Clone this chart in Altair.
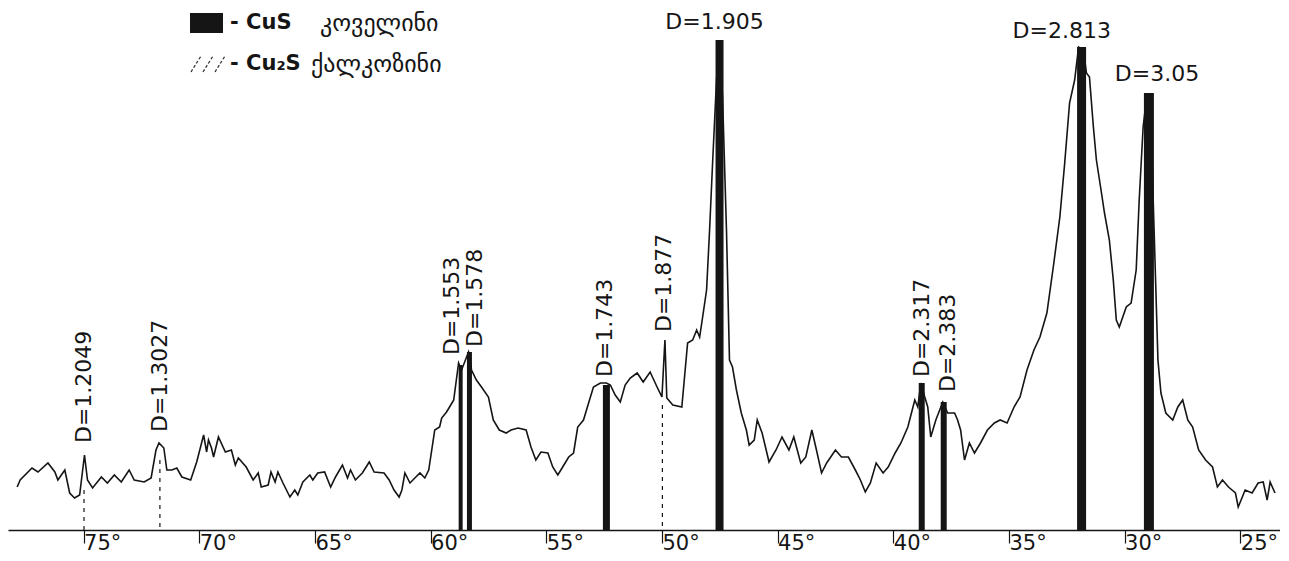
import altair as alt
import pandas as pd

# ---------------- data ----------------
two_theta = [77.87, 77.74, 77.23, 76.97, 76.54, 76.24, 76.11, 75.81, 75.60, 75.39, 75.17,
             74.96, 74.83, 74.61, 74.23, 73.97, 73.67, 73.37, 73.03, 72.81, 72.38, 72.08,
             71.87, 71.74, 71.53, 71.40, 71.18, 70.97, 70.75, 70.37, 70.11, 69.81, 69.68,
             69.60, 69.47, 69.38, 69.17, 68.87, 68.61, 68.44, 68.31, 67.97, 67.67, 67.45,
             67.32, 67.02, 66.90, 66.72, 66.60, 66.38, 66.08, 65.87, 65.74, 65.52, 65.22,
             65.09, 64.88, 64.58, 64.32, 64.11, 63.81, 63.59, 63.46, 63.25, 62.95, 62.65,
             62.44, 62.01, 61.79, 61.58, 61.36, 61.24, 61.11, 60.89, 60.68, 60.46, 60.25,
             60.08, 59.82, 59.61, 59.52, 59.31, 59.18, 59.00, 58.79, 58.66, 58.36, 58.23,
             58.02, 57.80, 57.50, 57.29, 57.03, 56.73, 56.52, 56.22, 55.87, 55.66, 55.45,
             55.23, 54.93, 54.72, 54.50, 54.29, 54.03, 53.82, 53.64, 53.39, 53.17, 52.96,
             52.66, 52.40, 52.23, 52.02, 51.80, 51.59, 51.37, 51.07, 50.81, 50.51, 50.21,
             50.00, 49.87, 49.79, 49.53, 49.14, 48.89, 48.67, 48.50, 48.37, 48.24, 48.07,
             47.94, 47.81, 47.64, 47.51, 47.38, 47.21, 47.08, 46.95, 46.78, 46.57, 46.35,
             46.23, 46.01, 45.88, 45.67, 45.37, 45.07, 44.81, 44.51, 44.30, 44.00, 43.78,
             43.52, 43.35, 43.10, 42.88, 42.50, 42.24, 41.94, 41.64, 41.42, 41.21, 40.99,
             40.74, 40.44, 40.22, 39.92, 39.67, 39.37, 39.07, 38.94, 38.81, 38.64, 38.51,
             38.38, 38.16, 37.86, 37.65, 37.35, 37.22, 37.09, 36.92, 36.71, 36.49, 36.23,
             35.93, 35.63, 35.38, 35.08, 34.78, 34.52, 34.22, 33.92, 33.66, 33.36, 33.06,
             32.80, 32.59, 32.38, 32.16, 31.99, 31.78, 31.65, 31.52, 31.35, 31.22, 31.00,
             30.87, 30.66, 30.49, 30.36, 30.23, 29.93, 29.72, 29.50, 29.37, 29.20, 29.03,
             28.86, 28.73, 28.56, 28.43, 28.22, 27.92, 27.70, 27.49, 27.27, 27.06, 26.80,
             26.50, 26.20, 25.99, 25.77, 25.51, 25.21, 25.09, 24.79, 24.49, 24.23, 24.01,
             23.84, 23.71, 23.50]
intensity = [43, 50, 62, 58, 67, 58, 50, 60, 37, 32, 35,
             75, 50, 42, 53, 47, 55, 48, 60, 50, 48, 52,
             80, 87, 82, 60, 60, 62, 53, 50, 68, 95, 78,
             90, 82, 73, 93, 78, 80, 65, 72, 63, 50, 57,
             43, 45, 58, 48, 58, 47, 33, 40, 35, 48, 55,
             50, 57, 58, 43, 53, 65, 52, 60, 50, 57, 68,
             58, 57, 50, 40, 33, 40, 57, 47, 52, 57, 52,
             60, 100, 103, 112, 118, 123, 130, 167, 160, 178, 160,
             150, 143, 133, 110, 100, 97, 100, 102, 100, 83, 70,
             78, 77, 63, 55, 63, 73, 77, 103, 110, 127, 143,
             147, 147, 145, 135, 128, 145, 152, 157, 148, 158, 143,
             133, 190, 132, 125, 123, 187, 190, 200, 193, 213, 240,
             300, 367, 450, 490, 433, 300, 170, 163, 140, 117, 100,
             85, 90, 110, 97, 68, 80, 93, 80, 93, 67, 73,
             100, 83, 57, 67, 80, 73, 73, 60, 50, 38, 47,
             67, 57, 63, 77, 87, 103, 130, 123, 147, 133, 123,
             93, 110, 128, 117, 117, 110, 100, 70, 87, 77, 87,
             100, 107, 110, 107, 123, 133, 160, 180, 193, 217, 267,
             313, 367, 427, 450, 483, 480, 457, 453, 403, 370, 337,
             317, 290, 250, 210, 203, 223, 227, 260, 330, 403, 437,
             403, 303, 170, 137, 117, 110, 123, 130, 110, 103, 80,
             70, 63, 43, 50, 43, 37, 23, 40, 37, 47, 48,
             30, 48, 37]

# CuS (covellite) reflections - solid bars
cus_d = ["D=1.553", "D=1.578", "D=1.743", "D=1.905", "D=2.317", "D=2.383", "D=2.813", "D=3.05"]
cus_theta = [58.70, 58.32, 52.40, 47.51, 38.77, 37.82, 31.86, 28.95]
cus_height = [165, 178, 145, 490, 147, 128, 483, 437]

# Cu2S (chalcocite) reflections - dashed lines
cu2s_d = ["D=1.2049", "D=1.3027", "D=1.877"]
cu2s_theta = [74.98, 71.70, 49.98]
cu2s_height = [40, 70, 125]

# vertical peak labels
vert_labels = ["D=1.2049", "D=1.3027", "D=1.553", "D=1.578", "D=1.743", "D=1.877", "D=2.317", "D=2.383"]
vert_theta = [74.96, 71.70, 59.09, 58.06, 52.44, 49.91, 38.77, 37.65]
vert_level = [87, 98, 175, 183, 153, 198, 153, 138]

# horizontal peak labels
horiz_labels = ["D=1.905", "D=2.813", "D=3.05"]
horiz_theta = [47.73, 32.72, 28.60]
horiz_level = [508, 499, 456]

tick_values = [75, 70, 65, 60, 55, 50, 45, 40, 35, 30, 25]

legend_cus = ["- CuS", "კოველინი"]
legend_cu2s = ["- Cu₂S", "ქალკოზინი"]

# ---------------- styling ----------------
bar_widths = [4, 5, 7, 8, 6, 6, 9, 10]
FONT = "DejaVu Sans"
INK = "#151515"
W, H = 1272, 522

xscale = alt.Scale(domain=[78.05, 23.5], nice=False, zero=False)
yscale = alt.Scale(domain=[0, 522], nice=False, zero=False)

x_axis = alt.Axis(
    values=tick_values, labelExpr="'\u200a' + datum.value + '°'", title=None, grid=False,
    domainColor=INK, domainWidth=1.6, tickColor=INK, tickWidth=1.2, tickSize=13,
    labelAlign="left", labelBaseline="top", labelPadding=-11,
    labelFont=FONT, labelFontSize=21, labelColor=INK, labelFlush=False, labelOverlap=False,
)

X = alt.X("theta:Q", scale=xscale, axis=x_axis)
Y = alt.Y("I:Q", scale=yscale, axis=None)

curve_df = pd.DataFrame({"theta": two_theta, "I": intensity})
bars_df = pd.DataFrame({"theta": cus_theta, "I": cus_height, "d": cus_d, "w": bar_widths})
cu2s_df = pd.DataFrame({"theta": cu2s_theta, "I": cu2s_height, "d": cu2s_d})
vlab_df = pd.DataFrame({"theta": vert_theta, "I": vert_level, "t": vert_labels})
hlab_df = pd.DataFrame({"theta": horiz_theta, "I": horiz_level, "t": horiz_labels})

bars = alt.Chart(bars_df).mark_bar(color=INK).encode(
    x=X, y=Y, y2=alt.datum(0), size=alt.Size("w:Q", scale=None, legend=None)
)

dashes = alt.Chart(cu2s_df).mark_rule(color=INK, strokeWidth=1.2, strokeDash=[4, 5]).encode(
    x=X, y=Y, y2=alt.datum(0)
)

curve = alt.Chart(curve_df).mark_line(color=INK, strokeWidth=1.6, strokeJoin="miter").encode(
    x=X, y=Y
)

vlabels = alt.Chart(vlab_df).mark_text(
    angle=270, align="left", baseline="middle", font=FONT, fontSize=22, color=INK
).encode(x=X, y=Y, text="t:N")

hlabels = alt.Chart(hlab_df).mark_text(
    align="center", baseline="middle", font=FONT, fontSize=22, color=INK
).encode(x=X, y=Y, text="t:N")

one = pd.DataFrame({"k": [0]})
leg_box = alt.Chart(one).mark_rect(color=INK).encode(
    x=alt.value(182), x2=alt.value(215), y=alt.value(5), y2=alt.value(25)
)
leg_hatch = alt.layer(*[
    alt.Chart(one).mark_rule(color="#333", strokeWidth=1.3, strokeDash=[3, 2]).encode(
        x=alt.value(x0), x2=alt.value(x0 + 10), y=alt.value(64), y2=alt.value(48)
    )
    for x0 in (183, 195, 207)
])
leg_t1a = alt.Chart(pd.DataFrame({"t": [legend_cus[0]]})).mark_text(
    align="left", baseline="middle", font=FONT, fontSize=21, fontWeight="bold", color=INK
).encode(x=alt.value(222), y=alt.value(15), text="t:N")
leg_t1b = alt.Chart(pd.DataFrame({"t": [legend_cus[1]]})).mark_text(
    align="left", baseline="middle", font=FONT, fontSize=24, color=INK
).encode(x=alt.value(312), y=alt.value(16), text="t:N")
leg_t2a = alt.Chart(pd.DataFrame({"t": [legend_cu2s[0]]})).mark_text(
    align="left", baseline="middle", font=FONT, fontSize=21, fontWeight="bold", color=INK
).encode(x=alt.value(222), y=alt.value(56), text="t:N")
leg_t2b = alt.Chart(pd.DataFrame({"t": [legend_cu2s[1]]})).mark_text(
    align="left", baseline="middle", font=FONT, fontSize=24, color=INK
).encode(x=alt.value(303), y=alt.value(57), text="t:N")

chart = alt.layer(
    bars, dashes, curve, vlabels, hlabels,
    leg_box, leg_hatch, leg_t1a, leg_t1b, leg_t2a, leg_t2b,
).properties(
    width=W, height=H,
    autosize=alt.AutoSizeParams(type="none"),
    padding={"left": 0, "right": 0, "top": 0, "bottom": 23},
    background="white",
).configure_view(stroke=None)

chart.save("out.html", embed_options={"renderer": "svg", "actions": False})
